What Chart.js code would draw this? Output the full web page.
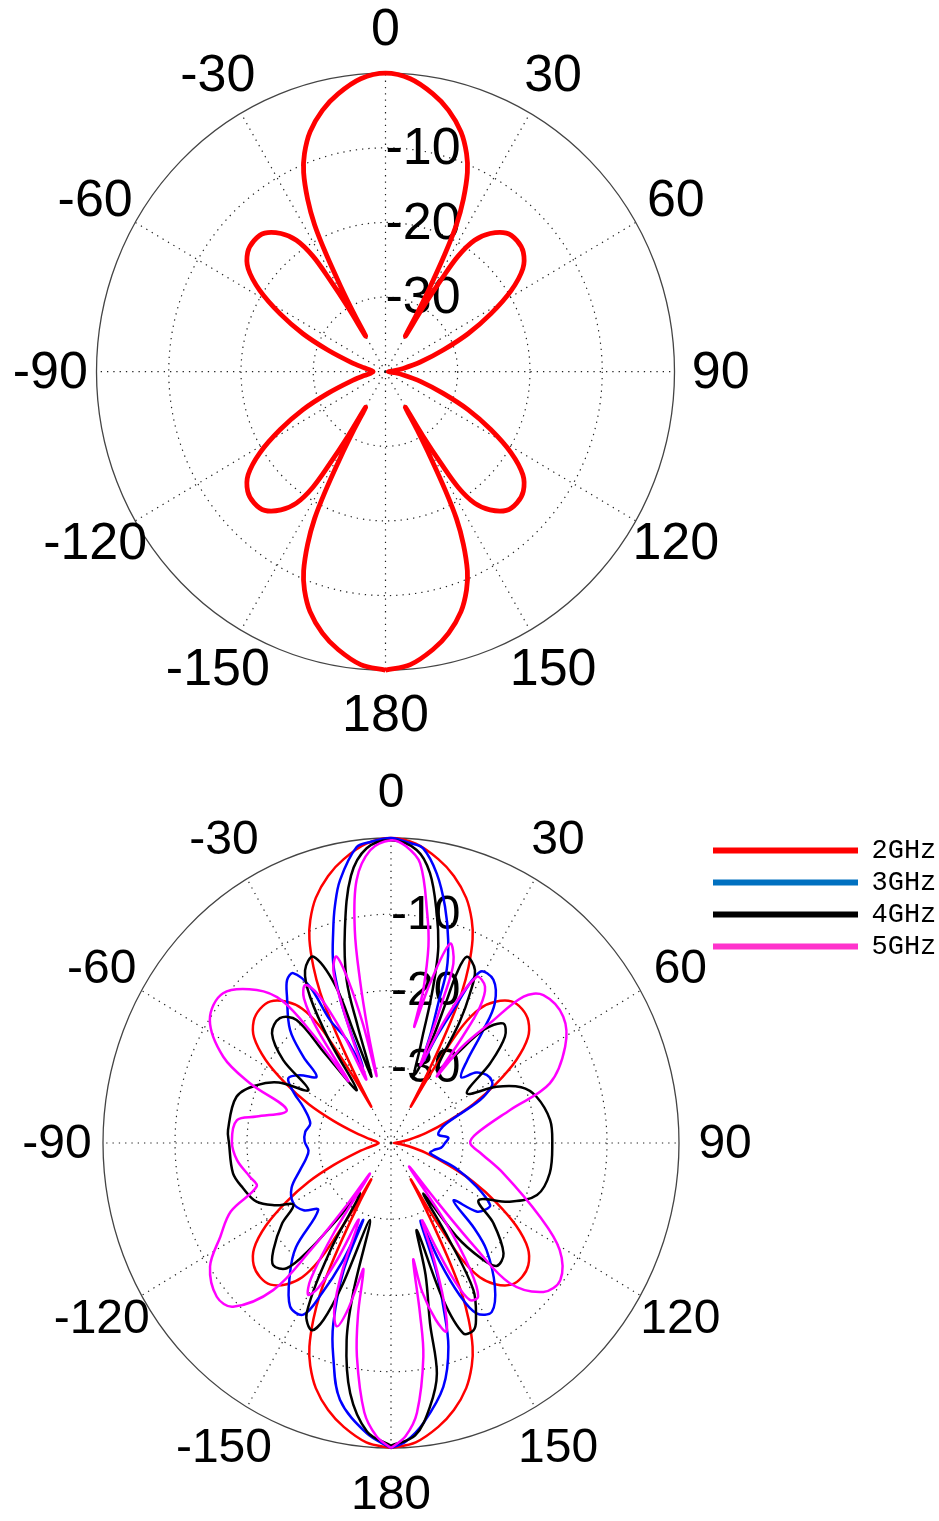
<!DOCTYPE html>
<html>
<head>
<meta charset="utf-8">
<script src="https://cdn.jsdelivr.net/npm/chart.js@4.4.1/dist/chart.umd.min.js"></script>
<style>
    html, body { margin: 0; padding: 0; background: #fff; }
    #wrap { position: relative; width: 939px; height: 1521px; overflow: hidden; }
    canvas { position: absolute; left: 0; }
    #topPlot { top: 0; }
    #bottomPlot { top: 760px; }
</style>
</head>
<body>
<div id="wrap">
    <canvas id="topPlot" width="939" height="760"></canvas>
    <canvas id="bottomPlot" width="939" height="761"></canvas>
</div>
<script>
// 축 눈금
const angleTicks = [0, 30, 60, 90, 120, 150, 180, 210, 240, 270, 300, 330];
const angleLabels = ['0', '30', '60', '90', '120', '150', '180', '-150', '-120', '-90', '-60', '-30'];
const ringTicks = [-30, -20, -10];
const rFloor = -40;   // 중심 (dB)
const rCeil = 0;      // 바깥 원 (dB)

// 범례
const seriesNames = ['2GHz', '3GHz', '4GHz', '5GHz'];
const lineColors = ['#ff0000', '#0000ff', '#000000', '#ff00ff'];
const legendColors = ['#ff0000', '#0070c0', '#000000', '#ff33cc'];

// 방사 패턴 [각도(deg), 이득(dB)]
const gain2GHz = [
    [-180, 0], [-175, -0.6], [-170, -2.2], [-166, -3.9], [-162, -6.2], [-159, -8.7], [-157, -11], [-155, -14.5],
    [-153.5, -18], [-152.5, -22], [-151.5, -27], [-150.7, -31], [-150, -34.5], [-149, -30], [-148, -25.5], [-147, -21.5],
    [-145, -18.5], [-142, -16.5], [-138, -15], [-134, -14.7], [-130, -15.1], [-126, -16.5], [-122, -19.5], [-118, -23.5],
    [-114, -27.5], [-110, -31.5], [-105, -35], [-100, -37], [-95, -38], [-90, -38.3], [-85, -38], [-80, -37],
    [-75, -35], [-70, -31.5], [-66, -27.5], [-62, -23.5], [-58, -19.5], [-54, -16.5], [-50, -15.1], [-46, -14.7],
    [-42, -15], [-38, -16.5], [-35, -18.5], [-33, -21.5], [-32, -25.5], [-31, -30], [-30, -34.5], [-29.3, -31],
    [-28.5, -27], [-27.5, -22], [-26.5, -18], [-25, -14.5], [-23, -11], [-21, -8.7], [-18, -6.2], [-14, -3.9],
    [-10, -2.2], [-5, -0.6], [0, 0],
    [5, -0.6], [10, -2.2], [14, -3.9], [18, -6.2], [21, -8.7], [23, -11], [25, -14.5], [26.5, -18],
    [27.5, -22], [28.5, -27], [29.3, -31], [30, -34.5], [31, -30], [32, -25.5], [33, -21.5], [35, -18.5],
    [38, -16.5], [42, -15], [46, -14.7], [50, -15.1], [54, -16.5], [58, -19.5], [62, -23.5], [66, -27.5],
    [70, -31.5], [75, -35], [80, -37.5], [85, -39], [90, -39.6], [95, -39], [100, -37.5], [105, -35],
    [110, -31.5], [114, -27.5], [118, -23.5], [122, -19.5], [126, -16.5], [130, -15.1], [134, -14.7], [138, -15],
    [142, -16.5], [145, -18.5], [147, -21.5], [148, -25.5], [149, -30], [150, -34.5], [150.7, -31], [151.5, -27],
    [152.5, -22], [153.5, -18], [155, -14.5], [157, -11], [159, -8.7], [162, -6.2], [166, -3.9], [170, -2.2],
    [175, -0.6], [180, 0]
];

const gain3GHz = [
    [-180, 0], [-174.9, -1.8], [-168.1, -5.6], [-164, -10.9], [-161.3, -15], [-158.5, -22], [-159.1, -29.2], [-156.5, -23],
    [-154, -18], [-151.6, -14.4], [-146.8, -14.4], [-140.6, -17.9], [-136, -21], [-131, -26.6], [-126, -25], [-120.2, -24.3],
    [-113, -25], [-105.6, -26.9], [-100, -28], [-95, -28.5], [-89, -28], [-83, -28], [-77.1, -28.5], [-68.7, -26.9],
    [-64, -25], [-59.3, -23.4], [-55, -24.5], [-49.9, -26.5], [-47.1, -23.4], [-43.4, -19.6], [-37, -16], [-34, -14.2],
    [-31.4, -13.9], [-28.8, -16.6], [-27.7, -21.8], [-24.5, -25], [-21.5, -29.3], [-21, -24.1], [-20.5, -20], [-18.8, -15.1],
    [-16, -10.9], [-14.1, -8], [-11.6, -4.8], [-7, -0.9], [-4, -0.4], [0, 0],
    [4, -0.6], [6.6, -1.1], [10.2, -4.1], [13.6, -8.1], [16.6, -12.2], [18.8, -16], [19.7, -20.5], [21, -24.5],
    [22.4, -28.5], [24.5, -24.5], [26.4, -20.5], [28.8, -14.4], [33.6, -14.3], [38.2, -16.7], [40.9, -20.4], [44.5, -25],
    [48.5, -27], [52, -25], [56.1, -24], [60, -23.8], [62.1, -24.2], [65.5, -26.4], [71.5, -31.9], [76, -33],
    [81, -33.3], [85, -32], [90, -32.5], [95, -33], [99, -34], [104, -34.4], [110, -30.5], [115.7, -26.8],
    [120.6, -24], [124, -24.3], [127.1, -25.1], [131, -28.5], [134, -24], [136.6, -20.7], [142.5, -16.3], [147.7, -13.8],
    [152, -14.7], [154.5, -18], [156.5, -23], [158.2, -29], [159.5, -22], [161.3, -17.3], [163.4, -12.1], [167.2, -7.2],
    [173, -3], [177, -0.8], [180, 0]
];

const gain4GHz = [
    [-180, -0.3], [-175, -2], [-170.2, -6.7], [-166.6, -13.4], [-165, -20], [-163.9, -29.5], [-160, -20], [-158, -15],
    [-155.8, -13.1], [-152.3, -14.8], [-149, -24], [-146.9, -32.1], [-143, -27], [-141, -22], [-138.6, -18.1], [-134.4, -17.1],
    [-130.6, -18.5], [-125, -21.5], [-120.9, -24.2], [-117, -22], [-112.4, -19.8], [-106, -18.6], [-100.3, -17.7], [-90, -17.5],
    [-85.7, -17.3], [-74.2, -17.7], [-67.8, -19.9], [-63, -22.5], [-58.8, -26.6], [-54, -21.5], [-49, -18.1], [-43.3, -17.5],
    [-39.1, -19.2], [-38, -25], [-34.4, -31.6], [-32.5, -24], [-30.4, -17.8], [-27.8, -14.4], [-23.8, -13.3], [-20.5, -18],
    [-19.5, -25], [-17.2, -30.9], [-16.8, -24], [-16.1, -17.8], [-12.9, -11.3], [-9, -4.5], [-5, -1.2], [0, -0.3],
    [5.3, -1.4], [8.7, -4.2], [11.9, -9.2], [14.3, -13.4], [15.5, -17], [16.5, -21], [17.3, -25], [18, -27],
    [20, -30.5], [22.8, -26], [22.5, -20], [22.3, -16], [23.3, -13.4], [27.2, -14.5], [29.2, -17.5], [31, -21.5],
    [33.5, -28.5], [37.4, -25.8], [40.9, -20.4], [44.8, -17.9], [48.6, -18.9], [52.8, -22.7], [58.2, -27.6], [63.3, -23.6],
    [68, -20.5], [73.3, -18.9], [82.2, -17.7], [90, -17.6], [100.2, -17.6], [108.6, -18.6], [115, -21.8], [121.7, -25.7],
    [126.5, -22.3], [132.8, -18.7], [137.7, -18.2], [140.5, -20.5], [143.4, -24.7], [145.8, -32], [147.5, -25], [149.3, -17.6],
    [153, -14], [155, -12.9], [158.1, -13.1], [160.6, -18.2], [162.6, -28], [164.5, -22], [167.1, -15.7], [168.1, -9.1],
    [171.1, -5], [175, -1.5], [180, -0.3]
];

const gain5GHz = [
    [-180, 0], [-177, -1.5], [-174, -4.5], [-170.4, -11.6], [-168.5, -17], [-167, -23], [-166, -21], [-164.5, -17],
    [-162.6, -14.8], [-160, -17], [-158, -22], [-156, -29], [-154, -23], [-152, -18.5], [-150, -17], [-148, -19],
    [-146, -26], [-144, -35], [-143, -30], [-141.5, -22], [-139.7, -14.7], [-134.4, -9.3], [-129.8, -8.5], [-122.8, -10.1],
    [-117.4, -13.3], [-112, -16], [-107, -20.5], [-102.7, -19.9], [-96, -18.5], [-89.5, -17.9], [-82, -18.4], [-79.5, -21],
    [-73.4, -24.9], [-68.2, -18.9], [-64.1, -14.1], [-57.3, -10.1], [-49.9, -9.5], [-42.9, -12.6], [-39, -16], [-37.3, -22],
    [-36, -30], [-34.5, -22], [-32.5, -17.5], [-29.9, -16.1], [-27.5, -18], [-25, -24], [-22.5, -31], [-21.5, -26],
    [-20.5, -20], [-19.5, -16], [-17.2, -14.4], [-15.5, -18], [-14, -24], [-12.9, -31], [-12.3, -25], [-11.4, -18.2],
    [-10.2, -11.6], [-7.9, -5.2], [-4.3, -1.5], [0, -0.3],
    [3, -1], [6.3, -3.1], [9.5, -9.5], [11.4, -13.7], [12.6, -19.4], [12.3, -22], [12, -24.4], [14.5, -18.4],
    [17.4, -12.6], [20.2, -14.9], [21, -20], [21.5, -25], [22, -29], [25, -22], [28.6, -15.2], [32.5, -15.7],
    [34.7, -18.3], [35.5, -23], [36, -29.2], [38, -24], [41.2, -19.1], [43.8, -13.4], [47.5, -11.3], [55.3, -10.9],
    [62.4, -12.7], [70.5, -16.6], [75.3, -22.9], [83.9, -28], [90, -29], [96, -27.5], [104.3, -23.9], [115, -17.2],
    [120.9, -12.7], [127.4, -10.4], [132.7, -11.2], [138.1, -15.3], [139.5, -22], [140.3, -30], [141, -36], [144, -27],
    [146.5, -20], [149, -16.5], [152, -16.7], [154, -20], [155.5, -25], [157, -29], [158.5, -24], [160.5, -18],
    [162.7, -14.1], [165, -16], [167.5, -20], [168.6, -24.4], [169.8, -17.3], [170.9, -11.6], [174.2, -4.4], [177, -1.5],
    [180, 0]
];

// 극좌표 -> 직교좌표 (반지름 = dB - 중심값)
function toPoints(pairs) {
    return pairs.map(([deg, db]) => {
        const r = Math.max(db, rFloor) - rFloor;
        const t = deg * Math.PI / 180;
        return { x: r * Math.sin(t), y: r * Math.cos(t) };
    });
}

// 극좌표 격자 + 눈금 라벨
const polarGrid = {
    id: 'polarGrid',
    beforeDatasetsDraw(chart, args, opts) {
        const ctx = chart.ctx;
        const xs = chart.scales.x;
        const ys = chart.scales.y;
        const cx = xs.getPixelForValue(0);
        const cy = ys.getPixelForValue(0);
        const rx = db => xs.getPixelForValue(db - rFloor) - cx;
        const ry = db => cy - ys.getPixelForValue(db - rFloor);
        const Rx = rx(rCeil);
        const Ry = ry(rCeil);
        const fs = opts.fontSize;

        ctx.save();
        ctx.strokeStyle = '#222';
        ctx.lineWidth = 1.2;
        ctx.setLineDash([1.3, 5]);
        ringTicks.forEach(db => {
            ctx.beginPath();
            ctx.ellipse(cx, cy, rx(db), ry(db), 0, 0, Math.PI * 2);
            ctx.stroke();
        });
        angleTicks.forEach(deg => {
            const t = deg * Math.PI / 180;
            ctx.beginPath();
            ctx.moveTo(cx, cy);
            ctx.lineTo(cx + Rx * Math.sin(t), cy - Ry * Math.cos(t));
            ctx.stroke();
        });

        ctx.setLineDash([]);
        ctx.strokeStyle = '#444';
        ctx.lineWidth = 1.3;
        ctx.beginPath();
        ctx.ellipse(cx, cy, Rx, Ry, 0, 0, Math.PI * 2);
        ctx.stroke();

        // 숫자 높이의 절반만큼 내려서 세로 가운데 정렬
        ctx.fillStyle = '#000';
        ctx.font = fs + 'px "Liberation Sans", Arial, Helvetica, sans-serif';
        ctx.textBaseline = 'alphabetic';
        ctx.textAlign = 'left';
        ringTicks.forEach(db => ctx.fillText(String(db), cx, cy - ry(db) + 0.31 * fs));

        ctx.textAlign = 'center';
        angleTicks.forEach((deg, i) => {
            const t = deg * Math.PI / 180;
            ctx.fillText(angleLabels[i], cx + 1.16 * Rx * Math.sin(t), cy - 1.15 * Ry * Math.cos(t) + 0.31 * fs);
        });
        ctx.restore();
    }
};

function lineDataset(i, pairs, width, order) {
    return {
        label: seriesNames[i],
        data: toPoints(pairs),
        showLine: true,
        borderColor: lineColors[i],
        backgroundColor: lineColors[i],
        borderWidth: width,
        pointRadius: 0,
        tension: 0.35,
        order: order
    };
}

// g: 차트 영역 경계와 중심(px), 단위당 px
function polarOptions(g, fontSize, legend) {
    return {
        responsive: false,
        animation: false,
        events: [],
        layout: { padding: { top: g.top, left: 0, right: 0, bottom: 0 } },
        scales: {
            x: { type: 'linear', display: false, min: -(g.cx - g.left) / g.kx, max: (g.right - g.cx) / g.kx },
            y: { type: 'linear', display: false, min: -(g.bottom - g.cy) / g.ky, max: (g.cy - g.top) / g.ky }
        },
        plugins: {
            legend: legend,
            tooltip: { enabled: false },
            polarGrid: { fontSize: fontSize }
        }
    };
}

// 상단: 2GHz 단독
new Chart(document.getElementById('topPlot'), {
    type: 'scatter',
    data: { datasets: [lineDataset(0, gain2GHz, 4.8, 0)] },
    options: polarOptions(
        { left: 0, right: 939, top: 0, bottom: 760, cx: 385.5, cy: 371.7, kx: 7.225, ky: 7.4625 },
        52,
        { display: false }
    ),
    plugins: [polarGrid]
});

// 하단: 주파수별 비교
new Chart(document.getElementById('bottomPlot'), {
    type: 'scatter',
    data: {
        datasets: [
            lineDataset(0, gain2GHz, 2.5, 3),
            lineDataset(1, gain3GHz, 2.5, 2),
            lineDataset(2, gain4GHz, 2.5, 1),
            lineDataset(3, gain5GHz, 2.5, 0)
        ]
    },
    options: polarOptions(
        { left: 0, right: 708, top: 72, bottom: 761, cx: 391, cy: 383, kx: 7.2, ky: 7.625 },
        48,
        {
            display: true,
            position: 'right',
            align: 'start',
            maxWidth: 231,
            labels: {
                boxWidth: 145,
                boxHeight: 6,
                padding: 5,
                color: '#222',
                font: { family: '"Liberation Mono", "Courier New", monospace', size: 27 },
                generateLabels: () => seriesNames.map((name, i) => ({
                    text: name,
                    fillStyle: legendColors[i],
                    strokeStyle: legendColors[i],
                    lineWidth: 0,
                    hidden: false,
                    datasetIndex: i
                }))
            }
        }
    ),
    plugins: [polarGrid]
});
</script>
</body>
</html>
